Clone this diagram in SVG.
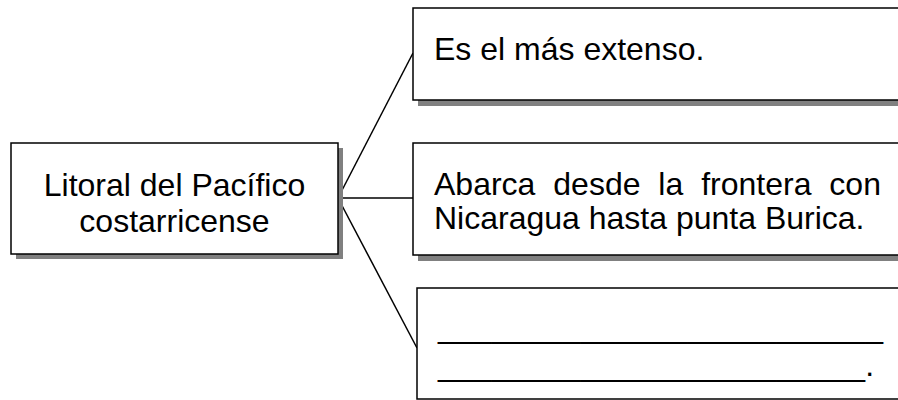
<svg xmlns="http://www.w3.org/2000/svg" width="898" height="400" viewBox="0 0 898 400">
<style>
.box{fill:#ffffff;stroke:#000000;stroke-width:1.5}
.shadow{fill:#808080;stroke:none}
.t{font-family:"Liberation Sans",Arial,sans-serif;font-size:32px;fill:#000000}
.conn{stroke:#000000;stroke-width:1.5;fill:none}
</style>
<rect width="898" height="400" fill="#ffffff"/>
<g id="connectors">
<line class="conn" x1="338" y1="198" x2="413" y2="53"/>
<line class="conn" x1="338" y1="198" x2="413" y2="198"/>
<line class="conn" x1="338" y1="198" x2="417" y2="348"/>
</g>
<g id="node-litoral">
<rect class="shadow" x="16" y="148" width="327" height="111"/>
<rect class="box" x="11" y="143" width="327" height="111"/>
<text class="t" x="174.5" y="196" text-anchor="middle">Litoral del Pacífico</text>
<text class="t" x="174.5" y="232" text-anchor="middle">costarricense</text>
</g>
<g id="node-extenso">
<rect class="shadow" x="418" y="13" width="500" height="93"/>
<rect class="box" x="413" y="8" width="500" height="92"/>
<text class="t" x="434" y="60">Es el más extenso.</text>
</g>
<g id="node-abarca">
<rect class="shadow" x="418" y="148" width="500" height="113"/>
<rect class="box" x="413" y="143" width="500" height="112"/>
<text class="t" x="434" y="195" word-spacing="9">Abarca desde la frontera con</text>
<text class="t" x="434" y="229">Nicaragua hasta punta Burica.</text>
</g>
<g id="node-blank">
<rect class="box" x="417" y="288" width="500" height="111"/>
<text class="t" x="438" y="338">_________________________</text>
<text class="t" x="438" y="376">________________________.</text>
</g>
</svg>
